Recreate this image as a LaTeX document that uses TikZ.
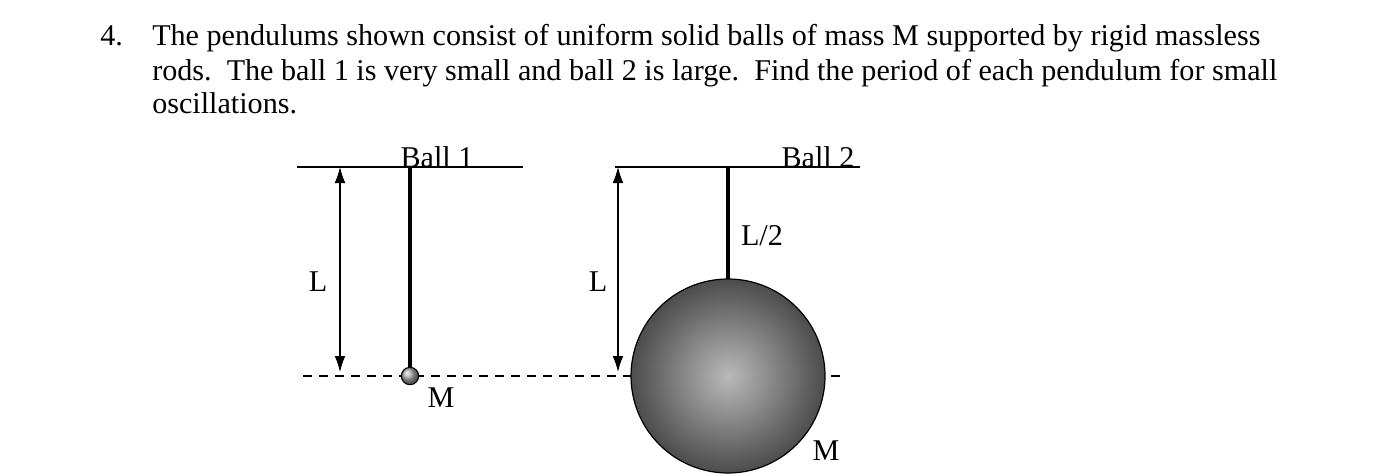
\documentclass[tikz,border=0pt]{standalone}
\usepackage{fontspec}
\setmainfont{Liberation Serif}
\usetikzlibrary{arrows.meta}
\begin{document}
\begin{tikzpicture}[x=0.75pt,y=-0.75pt,
  txt/.style={font=\fontsize{22.6}{26}\selectfont,inner sep=0pt},
  rod/.style={line width=3pt},
  dim/.style={{Latex[length=12pt,width=8pt]}-{Latex[length=12pt,width=8pt]},line width=0.8pt},
  hline/.style={line width=0.9pt}]
\useasboundingbox (0,0) rectangle (1374,475);
\node[txt,anchor=base west] (n4) at (100,45) {4.};
\node[txt,anchor=base west] (l1) at (152,45) {The pendulums shown consist of uniform solid balls of mass M supported by rigid massless};
\node[txt,anchor=base west] (l2) at (152,80) {rods.\ \ The ball 1 is very small and ball 2 is large.\ \ Find the period of each pendulum for small};
\node[txt,anchor=base west] (l3) at (152,113) {oscillations.};
% dashed line
\draw[line width=0.8pt,dash pattern=on 7pt off 5pt] (303,376) -- (845,376);
% ball 1
\coordinate (t1a) at (297,167); \coordinate (t1b) at (523,167);
\draw[hline] (t1a) -- (t1b);
\node[txt,anchor=base] (b1) at (437,167) {Ball 1};
\coordinate (r1) at (410,167);
\node[circle,draw,line width=0.8pt,minimum size=13pt,inner sep=0pt,ball color=gray!70] (m1) at (410,376) {};
\draw[rod] (r1) -- (m1.north);
\coordinate (a1t) at (340,167); \coordinate (a1b) at (340,372);
\draw[dim] (a1t) -- (a1b);
\node[txt] (L1) at (318,282) {L};
\node[txt] (M1) at (441,398) {M};
% ball 2
\coordinate (t2a) at (615,167); \coordinate (t2b) at (860,167);
\draw[hline] (t2a) -- (t2b);
\node[txt,anchor=base] (b2) at (818,167) {Ball 2};
\shade[inner color=gray!55,outer color=black!70] (728,376) circle (97);
\draw[line width=0.9pt] (728,376) circle (97);
\coordinate (r2) at (728,167); \coordinate (r2b) at (728,279);
\draw[rod] (r2) -- (r2b);
\coordinate (a2t) at (618,167); \coordinate (a2b) at (618,372);
\draw[dim] (a2t) -- (a2b);
\node[txt] (L2) at (598,282) {L};
\node[txt] (L2h) at (762,236) {L/2};
\node[txt] (M2) at (826,451) {M};
\end{tikzpicture}
\end{document}
